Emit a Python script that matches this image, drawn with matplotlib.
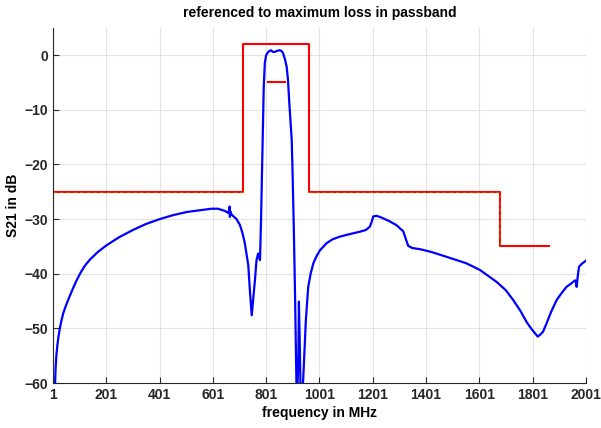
import numpy as np
import matplotlib.pyplot as plt

plt.rcParams["font.family"] = "Liberation Sans"
plt.rcParams["font.weight"] = "bold"

# measured S21 (MHz, dB)
freq = [9, 11, 14, 18, 22, 27, 33, 40, 50, 65, 78, 90, 105, 120, 140, 170,
        202, 250, 301, 350, 402, 450, 503, 550, 596, 620, 646, 660, 664,
        665, 667, 672, 690, 703, 712, 721, 728, 734, 740, 747, 753, 759,
        765, 771, 778, 782, 788, 792, 796, 801, 809, 819, 826, 834, 843,
        853, 860, 865, 872, 878, 883, 888, 893, 897, 900, 905, 909, 912,
        915, 918, 922, 924, 927, 930, 935, 940, 945, 950, 955, 959, 968,
        978, 990, 1003, 1028, 1050, 1078, 1110, 1153, 1175, 1190, 1197,
        1203, 1215, 1228, 1260, 1290, 1303, 1315, 1322, 1334, 1350, 1378,
        1420, 1478, 1553, 1603, 1666, 1700, 1728, 1755, 1778, 1795, 1810,
        1820, 1828, 1840, 1853, 1870, 1891, 1910, 1928, 1945, 1960, 1964,
        1966, 1970, 1975, 1985, 2001]
s21 = [-60.5, -57.5, -55.0, -53.0, -51.5, -50.0, -48.6, -47.2, -45.8,
       -44.0, -42.5, -41.2, -39.8, -38.6, -37.4, -36.0, -34.8, -33.3,
       -32.0, -30.9, -30.0, -29.3, -28.7, -28.4, -28.1, -28.1, -28.5,
       -28.9, -27.7, -29.6, -28.6, -29.2, -30.0, -31.1, -32.5, -34.4,
       -36.5, -38.4, -43.0, -47.6, -44.5, -41.2, -37.5, -36.3, -37.5,
       -30.0, -15.5, -6.0, -1.5, 0.0, 0.6, 0.9, 0.6, 0.6, 0.8, 0.9, 0.7,
       0.3, -0.8, -2.1, -4.5, -8.8, -12.5, -15.5, -21.0, -32.0, -42.4,
       -52.0, -61.0, -62.0, -55.0, -45.1, -52.0, -61.0, -62.0, -59.5,
       -54.0, -48.5, -45.0, -42.4, -40.0, -38.1, -36.8, -35.7, -34.4,
       -33.7, -33.2, -32.8, -32.3, -32.0, -31.4, -30.5, -29.5, -29.4,
       -29.6, -30.3, -31.1, -31.7, -32.2, -33.2, -34.9, -35.3, -35.5,
       -36.0, -36.9, -38.1, -39.3, -41.5, -43.0, -44.8, -46.8, -48.8,
       -50.0, -50.9, -51.5, -51.2, -50.6, -49.1, -47.0, -44.8, -43.5,
       -42.4, -41.8, -41.2, -41.6, -42.4, -40.5, -38.7, -38.2, -37.6]

# tolerance mask
mask_f = [1, 714, 714, 961, 961, 1679, 1679, 1862]
mask_db = [-25, -25, 2, 2, -25, -25, -35, -35]
mark_f = [808, 871]
mark_db = [-5, -5]

fig = plt.figure(figsize=(6.01, 4.28), dpi=100)
ax = fig.add_axes([0.088, 0.105, 0.887, 0.83])

ax.plot(freq, s21, color="#0000ff", linewidth=1.6)
ax.plot(mask_f, mask_db, color="#ff0000", linewidth=1.5)
ax.plot(mask_f[4:7], mask_db[4:7], color="#b08000", linewidth=0.8,
        linestyle=(0, (3, 3)), alpha=0.7)
ax.plot([1, 714], [-25, -25], color="#b08000", linewidth=0.8,
        linestyle=(0, (3, 3)), alpha=0.7)
ax.plot(mark_f, mark_db, color="#ff0000", linewidth=1.5)

ax.set_xlim(1, 2001)
ax.set_ylim(-60, 5)
ax.set_xticks(np.arange(1, 2002, 200))
ax.set_yticks(np.arange(-60, 1, 10))
ax.grid(True, color="#e3e3e3", linewidth=0.8)
ax.set_axisbelow(True)
ax.tick_params(direction="in", length=4, labelsize=10, colors="#262626")
for s in ["top", "right"]:
    ax.spines[s].set_visible(False)
for s in ["left", "bottom"]:
    ax.spines[s].set_color("#262626")
    ax.spines[s].set_linewidth(0.8)

ax.set_title("referenced to maximum loss in passband", fontsize=10,
             fontweight="bold", pad=8)
ax.set_xlabel("frequency in MHz", fontsize=10, fontweight="bold", labelpad=3)
ax.set_ylabel("S21 in dB", fontsize=10, fontweight="bold", labelpad=3)

plt.savefig("out.png", dpi=100)
